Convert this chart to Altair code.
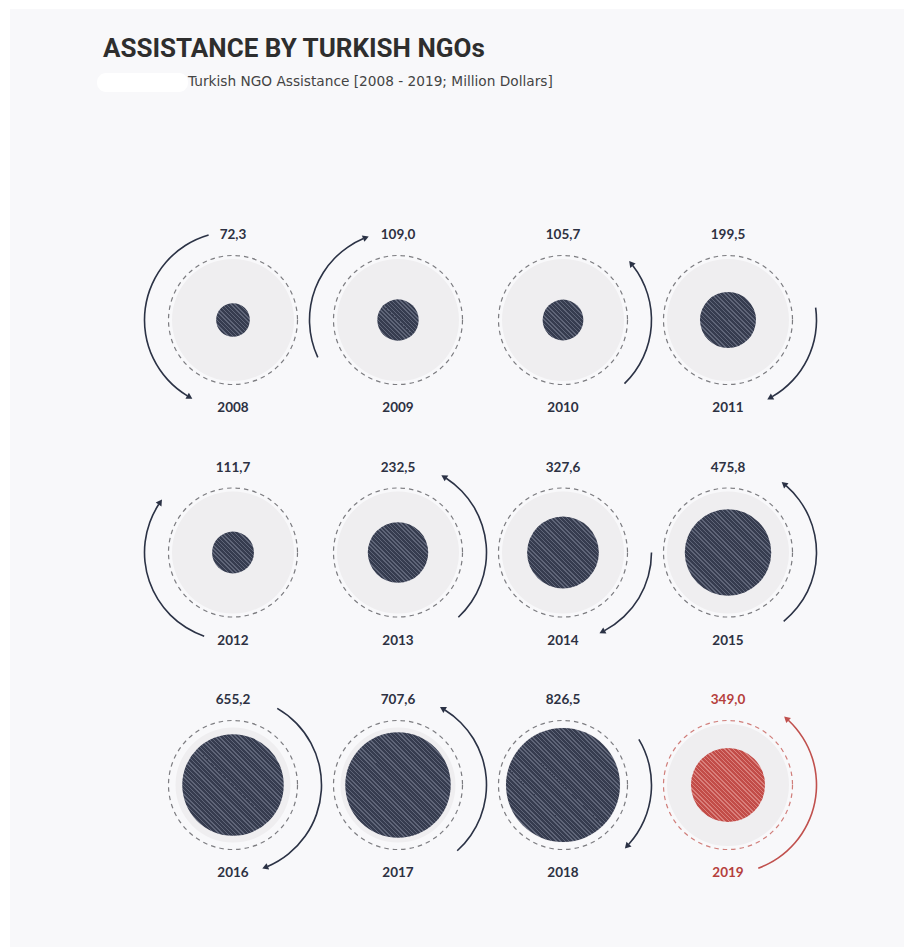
import math
import altair as alt
import pandas as pd

# ---------------- data ----------------
years = [2008, 2009, 2010, 2011, 2012, 2013, 2014, 2015, 2016, 2017, 2018, 2019]
values = [72.3, 109.0, 105.7, 199.5, 111.7, 232.5, 327.6, 475.8, 655.2, 707.6, 826.5, 349.0]
# decorative arrows: angle (deg, clockwise from 12 o'clock) of arrow tail and arrow tip
arrow_tail_deg = [344, 245, 136, 82, 199, 137, 90, 141, 30, 138, 59, 160]
arrow_tip_deg = [208, 340, 49, 153, 306, 30, 155, 38, 160, 29, 135, 40]
highlight_year = 2019

title_text = "ASSISTANCE BY TURKISH NGOs"
subtitle_text = "Turkish NGO Assistance [2008 - 2019; Million Dollars]"

# ---------------- style / layout ----------------
COLS = 4
X0, COL_STEP = 223, 165
Y0, ROW_STEP = 311, 232.5
R_ARC = 88.5
R_MAX = 57.0
V_MAX = max(values)
NAVY = "#2b3245"
RED = "#c0504d"
RED_TEXT = "#b5403c"
TEXT = "#2d3142"
PAGE = "#f8f8fa"
GRAY = "#efeef0"

df = pd.DataFrame({"year": years, "value": values,
                   "tail": arrow_tail_deg, "tip": arrow_tip_deg})
df["col"] = [i % COLS for i in range(len(years))]
df["row"] = [i // COLS for i in range(len(years))]

X = alt.X("col:Q", scale=alt.Scale(domain=[0, 3], range=[X0, X0 + 3 * COL_STEP]), axis=None)
Y = alt.Y("row:Q", scale=alt.Scale(domain=[0, 2], range=[Y0, Y0 + 2 * ROW_STEP]), axis=None)
is_hl = f"datum.year == {highlight_year}"

base = alt.Chart(df)

gray = base.mark_circle(opacity=1, color=GRAY).encode(
    x=X, y=Y,
    size=alt.condition(f"datum.row == 2 && !({is_hl})", alt.value(115 ** 2), alt.value(122 ** 2)),
)

dashed = base.mark_point(filled=False, shape="circle", strokeWidth=1.2,
                         strokeDash=[4.5, 4], opacity=1).encode(
    x=X, y=Y, size=alt.value(129 ** 2),
    color=alt.condition(is_hl, alt.value("#d07e7a"), alt.value("#7c7c80")),
)

size_scale = alt.Scale(domain=[0, V_MAX], range=[0, (2 * R_MAX) ** 2])


def hatch(base_col, line_col, diameter, period=3.0, lw=0.35):
    n = max(4, int(round(diameter * math.sqrt(2) / period)))
    stops = []
    for k in range(n):
        a = k / n
        b = (k + lw) / n
        c = (k + 1) / n
        stops += [alt.GradientStop(offset=a, color=line_col),
                  alt.GradientStop(offset=b, color=line_col),
                  alt.GradientStop(offset=b, color=base_col),
                  alt.GradientStop(offset=c, color=base_col)]
    return alt.LinearGradient(gradient="linear", stops=stops, x1=0, y1=1, x2=1, y2=0)


inner_layers = []
for yr, v in zip(years, values):
    d = 2 * R_MAX * math.sqrt(v / V_MAX)
    if yr == highlight_year:
        g = hatch("#c24c48", "#d97f7b", d)
    else:
        g = hatch("#363c4f", "#5f6578", d)
    inner_layers.append(
        base.transform_filter(f"datum.year == {yr}")
        .mark_circle(fill=g, opacity=1, fillOpacity=1)
        .encode(x=X, y=Y, size=alt.Size("value:Q", scale=size_scale, legend=None))
    )

arc_base = base.transform_calculate(
    dir="datum.tip > datum.tail ? 1 : -1"
).transform_calculate(
    arcEnd="datum.tip - datum.dir * 3",
    head="datum.tip - datum.dir * 1.9",
).transform_calculate(
    t0="min(datum.tail, datum.arcEnd) * PI / 180",
    t1="max(datum.tail, datum.arcEnd) * PI / 180",
    hx=f"datum.col + {R_ARC} * sin(datum.head * PI / 180) / {COL_STEP}",
    hy=f"datum.row - {R_ARC} * cos(datum.head * PI / 180) / {ROW_STEP}",
    hang="(datum.head + datum.dir * 90 + 360) % 360",
)

arc_color = alt.condition(is_hl, alt.value(RED), alt.value(NAVY))

arcs = arc_base.mark_arc(opacity=1).encode(
    x=X, y=Y,
    theta=alt.Theta("t0:Q", scale=None),
    theta2=alt.Theta2("t1:Q"),
    radius=alt.value(R_ARC + 0.8),
    radius2=alt.value(R_ARC - 0.8),
    color=arc_color,
)

heads = arc_base.mark_point(shape="triangle", filled=True, opacity=1).encode(
    x=alt.X("hx:Q", scale=alt.Scale(domain=[0, 3], range=[X0, X0 + 3 * COL_STEP]), axis=None),
    y=alt.Y("hy:Q", scale=alt.Scale(domain=[0, 2], range=[Y0, Y0 + 2 * ROW_STEP]), axis=None),
    angle=alt.Angle("hang:Q", scale=None),
    size=alt.value(48),
    color=arc_color,
)

label_color = alt.condition(is_hl, alt.value(RED_TEXT), alt.value(TEXT))

value_labels = base.transform_calculate(
    label="replace(format(datum.value, '.1f'), '.', ',')"
).mark_text(dy=-85, fontSize=13.5, fontWeight="bold", font="Lato").encode(
    x=X, y=Y, text="label:N", color=label_color)

year_labels = base.transform_calculate(
    ylabel="'' + datum.year"
).mark_text(dy=88, fontSize=13.5, fontWeight="bold", font="Lato").encode(
    x=X, y=Y, text="ylabel:N", color=label_color)

title = alt.Chart(pd.DataFrame({"t": [title_text]})).mark_text(
    align="left", baseline="alphabetic", fontSize=26, fontWeight="bold",
    font="Roboto", color="#2e2e2e"
).encode(x=alt.value(93), y=alt.value(48), text="t:N")

blob = alt.Chart(pd.DataFrame({"a": [0]})).mark_rect(color="white", cornerRadius=9).encode(
    x=alt.value(87), x2=alt.value(178), y=alt.value(64), y2=alt.value(83))

subtitle = alt.Chart(pd.DataFrame({"t": [subtitle_text]})).mark_text(
    align="left", baseline="alphabetic", fontSize=13.7, font="DejaVu Sans", color="#444444"
).encode(x=alt.value(178), y=alt.value(77), text="t:N")

chart = alt.layer(
    gray, dashed, *inner_layers, arcs, heads, value_labels, year_labels, title, blob, subtitle
).properties(
    width=894, height=938,
    padding={"left": 10, "top": 9, "right": 0, "bottom": 0},
    autosize=alt.AutoSizeParams(type="none"),
    background="white",
).configure_view(fill=PAGE, stroke=None)

chart.save("out.html", embed_options={"renderer": "svg", "actions": False})
